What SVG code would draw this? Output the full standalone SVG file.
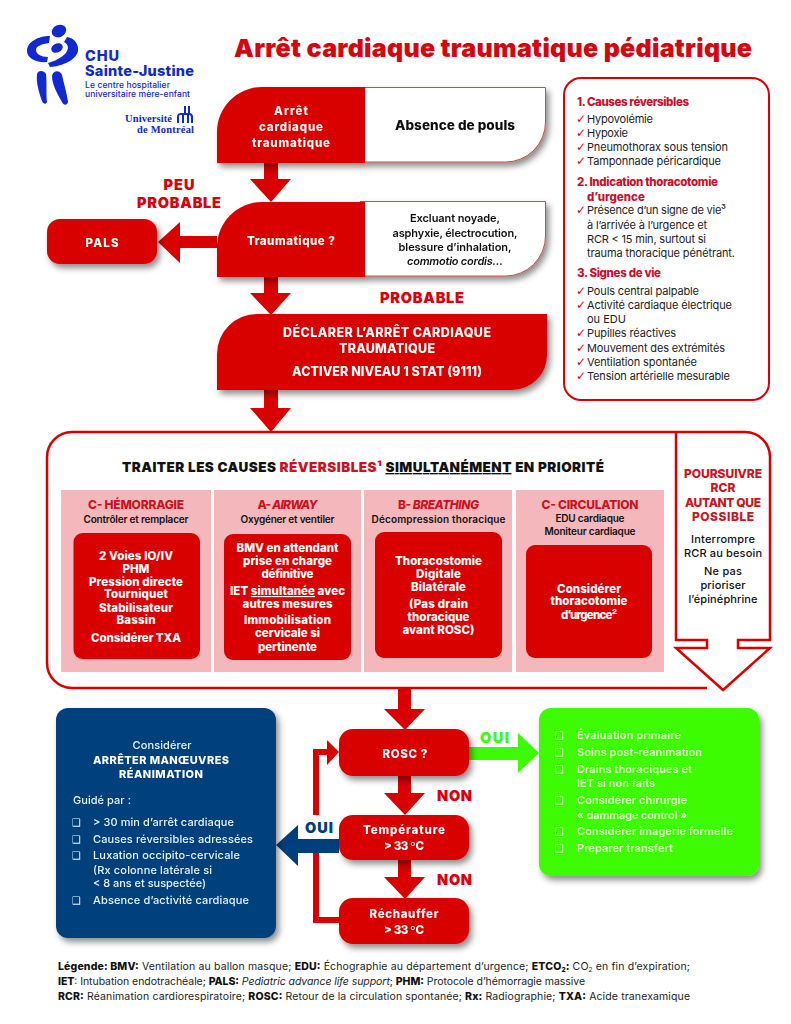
<svg xmlns="http://www.w3.org/2000/svg" width="791" height="1024" viewBox="0 0 791 1024">
<style>
text{font-family:"Inter","Liberation Sans",sans-serif;}
.m{text-anchor:middle}
.w{fill:#fff;font-weight:800;font-size:11.5px}
.w2{fill:#fff;font-weight:800;font-size:12.5px}
.r{fill:#d9000a;font-weight:900}
.k{fill:#111;font-weight:600;font-size:11px}
.k2{fill:#111;font-weight:800;font-size:13.5px}
.k3{fill:#111;font-weight:500;font-size:11px}
.b{fill:#222;font-size:11px;font-weight:400}
.h{fill:#c8102e;font-size:11.5px;font-weight:800}
.c{fill:#d9000a;font-size:12px;font-weight:700;font-family:"DejaVu Sans",sans-serif}
.sub{fill:#111;font-size:10px;font-weight:600}
.ph{fill:#c8141e;font-size:12px;font-weight:800}
.lb{fill:#e8f4fa;font-size:11px;font-weight:500}
.lbb{fill:#fff;font-size:11px;font-weight:800}
.lg{fill:#dcffc8;font-size:11px;font-weight:600}
.bx{font-family:"DejaVu Sans",sans-serif;font-size:10px}
.lgd{fill:#222;font-size:10.5px;font-weight:400}
.lgd tspan.s{font-weight:800;fill:#111}
.red{fill:#d90000}
.pink{fill:#f4b8bc}
.ln{fill:none;stroke:#d90000;stroke-width:2.5}
.thin{fill:#fff;stroke:#c0504d;stroke-width:1}
.lo{fill:#1029d0}
.lt{fill:#1029c8}
.se{font-family:"Liberation Serif",serif;font-size:10.500px;font-weight:700}
</style>
<defs>
<filter id="sh" x="-15%" y="-15%" width="135%" height="140%"><feDropShadow dx="3" dy="4" stdDeviation="3" flood-color="#000" flood-opacity="0.45"/></filter>
</defs>
<rect width="791" height="1024" fill="#fff"/>

<g id="logo">
<ellipse class="lo" cx="59" cy="31" rx="7.500" ry="6" transform="rotate(-25 59 31)"/>
<ellipse class="lo" cx="57" cy="48" rx="6" ry="4.500" transform="rotate(-25 57 48)"/>
<path class="lo" d="M50,36 C38,36 27,42 27,51 C27,58 36,63 47,62 L48,57 C41,57 36,54 36,50 C36,46 42,44 49,43 Z"/>
<path class="lo" d="M67,37 C75,38 79,45 78,51 C76,60 63,66 50,67 L48,63 C58,60 67,55 68,48 C68,45 66,43 64,42 Z"/>
<path class="lo" d="M37,74 C38,70 44,70 46,74 C47,83 46,95 47,102 C46,105 43,104 42,101 C39,92 36,83 37,74 Z"/>
<path class="lo" d="M52,76 C53,70 60,70 62,75 C64,84 67,94 68,102 C67,106 63,105 62,102 C58,95 52,85 52,76 Z"/>
<text class="lt" x="85" y="61" font-size="14.500" font-weight="800" textLength="34">CHU</text>
<text class="lt" x="85" y="76" font-size="14.500" font-weight="800" textLength="109">Sainte-Justine</text>
<text class="lt" x="85" y="88" font-size="8.500" font-weight="500" textLength="85">Le centre hospitalier</text>
<text class="lt" x="85" y="97" font-size="8.500" font-weight="500" textLength="105">universitaire mère-enfant</text>
<text class="lt se" x="125" y="122" textLength="47">Université</text>
<text class="lt se" x="137" y="133" textLength="57">de Montréal</text>
<path class="lo" d="M177,123v-6a4,4 0 0 1 4,-4h3v-7h2v7h2v-7h2v7h0a4,4 0 0 1 3,4v6h-2v-6a2,2 0 0 0 -2,-2v8h-2v-8h-3v8h-2v-8a2,2 0 0 0 -3,2v6z"/>
</g>

<text id="title" x="234" y="57" font-size="25" font-weight="900" fill="#d4070f" textLength="518">Arrêt cardiaque traumatique pédiatrique</text>

<g id="connectors">
<path class="red" d="M264,163h14v16h13l-20,23l-21,-23h14z"/>
<path class="red" d="M264,277h14v16h13l-20,22l-21,-22h14z"/>
<path class="red" d="M217,236v12h-37v15l-22,-21l22,-20v14z"/>
<path class="red" d="M264,389h14v19h13l-20,24l-21,-24h14z"/>
<path class="red" d="M398,688h13v21h14l-20,21l-21,-21h14z"/>
<path class="red" d="M398,776h13v17h14l-20,22l-21,-22h14z"/>
<path class="red" d="M398,860h13v17h14l-20,22l-21,-22h14z"/>
<path fill="#3dfb05" d="M469,747h49v-14l21,20l-21,20v-13h-49z"/>
<path fill="none" stroke="#d90000" stroke-width="6" d="M316,815V752h12"/>
<path class="red" d="M327,740l12,12l-12,13z"/>
<path fill="none" stroke="#d90000" stroke-width="6" d="M316,853V920h24"/>
<path fill="#003f7d" d="M339,839h-41v-14l-22,20l22,21v-13h41z"/>
</g>

<g id="node-arret" filter="url(#sh)">
<path class="thin" d="M360,87.500H545.500V122a40,40 0 0 1 -40,40H360z"/>
<path class="red" d="M217,163V132a45,45 0 0 1 45,-45H365V163z"/>
<text class="w m" x="291" y="115" textLength="34">Arrêt</text>
<text class="w m" x="291" y="131" textLength="64">cardiaque</text>
<text class="w m" x="291" y="147" textLength="78">traumatique</text>
<text class="k2 m" x="455" y="130" textLength="120">Absence de pouls</text>
</g>
<g id="node-traumatique" filter="url(#sh)">
<path class="thin" d="M360,201.500H545.500V236a40,40 0 0 1 -40,40H360z"/>
<path class="red" d="M217,277V247a45,45 0 0 1 45,-45H365V277z"/>
<text class="w m" x="291" y="245" textLength="88">Traumatique ?</text>
<text class="k m" x="455" y="222" textLength="90">Excluant noyade,</text>
<text class="k m" x="455" y="237" textLength="125">asphyxie, électrocution,</text>
<text class="k m" x="455" y="251" textLength="113">blessure d’inhalation,</text>
<text class="k m" x="455" y="265" font-style="italic" textLength="96">commotio cordis…</text>
</g>
<g id="node-pals" filter="url(#sh)">
<rect class="red" x="47" y="219" width="110" height="45" rx="13"/>
<text class="w m" x="102" y="247" textLength="33">PALS</text>
</g>
<text class="r m" x="179" y="190" font-size="14.500" textLength="31">PEU</text>
<text class="r m" x="179" y="208" font-size="14.500" textLength="84">PROBABLE</text>
<text class="r m" x="422" y="303" font-size="14.500" textLength="84">PROBABLE</text>
<g id="node-declarer" filter="url(#sh)">
<path class="red" d="M257,314H547V355a35,35 0 0 1 -35,35H217V354a40,40 0 0 1 40,-40z"/>
<text class="w2 m" x="387" y="337" textLength="208">DÉCLARER L’ARRÊT CARDIAQUE</text>
<text class="w2 m" x="387" y="353" textLength="96">TRAUMATIQUE</text>
<text class="w2 m" x="387" y="376" textLength="190">ACTIVER NIVEAU 1 STAT (9111)</text>
</g>

<g id="panel-notes">
<rect x="564" y="78" width="205" height="322" rx="17" fill="#fff" stroke="#d9000a" stroke-width="2"/>
<text class="h" x="577" y="106" textLength="112">1. Causes réversibles</text>
<text class="c" x="576" y="123">✓</text><text class="b" x="587" y="123" textLength="66">Hypovolémie</text>
<text class="c" x="576" y="137">✓</text><text class="b" x="587" y="137" textLength="41">Hypoxie</text>
<text class="c" x="576" y="151">✓</text><text class="b" x="587" y="151" textLength="141">Pneumothorax sous tension</text>
<text class="c" x="576" y="165">✓</text><text class="b" x="587" y="165" textLength="134">Tamponnade péricardique</text>
<text class="h" x="577" y="186" textLength="141">2. Indication thoracotomie</text>
<text class="h" x="587" y="201">d’urgence</text>
<text class="c" x="576" y="214">✓</text><text class="b" x="587" y="214" textLength="139">Présence d’un signe de vie³</text>
<text class="b" x="587" y="229" textLength="120">à l’arrivée à l’urgence et</text>
<text class="b" x="587" y="243" textLength="119">RCR &lt; 15 min, surtout si</text>
<text class="b" x="587" y="257" textLength="148">trauma thoracique pénétrant.</text>
<text class="h" x="577" y="277" textLength="84">3. Signes de vie</text>
<text class="c" x="576" y="295">✓</text><text class="b" x="587" y="295" textLength="112">Pouls central palpable</text>
<text class="c" x="576" y="309">✓</text><text class="b" x="587" y="309" textLength="145">Activité cardiaque électrique</text>
<text class="b" x="587" y="323" textLength="39">ou EDU</text>
<text class="c" x="576" y="337">✓</text><text class="b" x="587" y="337" textLength="89">Pupilles réactives</text>
<text class="c" x="576" y="352">✓</text><text class="b" x="587" y="352" textLength="138">Mouvement des extrémités</text>
<text class="c" x="576" y="366">✓</text><text class="b" x="587" y="366" textLength="110">Ventilation spontanée</text>
<text class="c" x="576" y="380">✓</text><text class="b" x="587" y="380" textLength="143">Tension artérielle mesurable</text>
</g>

<g id="panel-traiter">
<path class="ln" d="M707,688H72a25,25 0 0 1 -25,-25V457a25,25 0 0 1 25,-25H745a25,25 0 0 1 25,25V640H738V648H770L723,690L676,648H707V640H676V432"/>
<text x="122" y="472" font-size="13.500" font-weight="900" fill="#111" textLength="482">TRAITER LES CAUSES <tspan fill="#c8141e">RÉVERSIBLES¹</tspan> <tspan text-decoration="underline">SIMULTANÉMENT</tspan> EN PRIORITÉ</text>
<rect class="pink" x="61" y="490" width="150" height="182"/>
<rect class="pink" x="214" y="490" width="147" height="182"/>
<rect class="pink" x="364" y="490" width="148" height="182"/>
<rect class="pink" x="516" y="490" width="148" height="182"/>
</g>
<g id="node-hemorragie">
<text class="ph m" x="136" y="509" textLength="96">C- HÉMORRAGIE</text>
<text class="sub m" x="136" y="523" textLength="105">Contrôler et remplacer</text>
<rect class="red" x="73.500" y="533" width="126.500" height="126" rx="9"/>
<text class="w m" x="136" y="560" textLength="74">2 Voies IO/IV</text>
<text class="w m" x="136" y="573">PHM</text>
<text class="w m" x="136" y="586" textLength="94">Pression directe</text>
<text class="w m" x="136" y="598" textLength="64">Tourniquet</text>
<text class="w m" x="136" y="612" textLength="74">Stabilisateur</text>
<text class="w m" x="136" y="624" textLength="39">Bassin</text>
<text class="w m" x="136" y="642" textLength="90">Considérer TXA</text>
</g>
<g id="node-airway">
<text class="ph m" x="287.500" y="509" textLength="60">A- <tspan font-style="italic">AIRWAY</tspan></text>
<text class="sub m" x="287.500" y="523" textLength="94">Oxygéner et ventiler</text>
<rect class="red" x="224" y="534" width="127" height="126" rx="9"/>
<text class="w m" x="287.500" y="552" textLength="102">BMV en attendant</text>
<text class="w m" x="287.500" y="565" textLength="89">prise en charge</text>
<text class="w m" x="287.500" y="578" textLength="52">définitive</text>
<text class="w m" x="287.500" y="595" textLength="115">IET <tspan text-decoration="underline">simultanée</tspan> avec</text>
<text class="w m" x="287.500" y="608" textLength="90">autres mesures</text>
<text class="w m" x="287.500" y="624" textLength="87">Immobilisation</text>
<text class="w m" x="287.500" y="637" textLength="65">cervicale si</text>
<text class="w m" x="287.500" y="651" textLength="59">pertinente</text>
</g>
<g id="node-breathing">
<text class="ph m" x="438.500" y="509" textLength="81">B- <tspan font-style="italic">BREATHING</tspan></text>
<text class="sub m" x="438.500" y="523" textLength="134">Décompression thoracique</text>
<rect class="red" x="375" y="532" width="127" height="126" rx="9"/>
<text class="w m" x="438.500" y="565" textLength="87">Thoracostomie</text>
<text class="w m" x="438.500" y="578" textLength="45">Digitale</text>
<text class="w m" x="438.500" y="591" textLength="55">Bilatérale</text>
<text class="w m" x="438.500" y="608" textLength="59">(Pas drain</text>
<text class="w m" x="438.500" y="621" textLength="62">thoracique</text>
<text class="w m" x="438.500" y="634" textLength="72">avant ROSC)</text>
</g>
<g id="node-circulation">
<text class="ph m" x="590" y="509" textLength="97">C- CIRCULATION</text>
<text class="sub m" x="590" y="522" textLength="69">EDU cardiaque</text>
<text class="sub m" x="590" y="535" textLength="91">Moniteur cardiaque</text>
<rect class="red" x="526" y="545" width="126" height="113" rx="9"/>
<text class="w m" x="589" y="593" textLength="64">Considérer</text>
<text class="w m" x="589" y="605" textLength="77">thoracotomie</text>
<text class="w m" x="589" y="619" textLength="56">d’urgence²</text>
</g>
<g id="node-poursuivre">
<text class="ph m" x="723" y="478" textLength="78">POURSUIVRE</text>
<text class="ph m" x="723" y="492">RCR</text>
<text class="ph m" x="723" y="507" textLength="76">AUTANT QUE</text>
<text class="ph m" x="723" y="521" textLength="62">POSSIBLE</text>
<text class="k3 m" x="723" y="543" textLength="64">Interrompre</text>
<text class="k3 m" x="723" y="557" textLength="78">RCR au besoin</text>
<text class="k3 m" x="723" y="575" textLength="38">Ne pas</text>
<text class="k3 m" x="723" y="589" textLength="45">prioriser</text>
<text class="k3 m" x="723" y="603" textLength="69">l’épinéphrine</text>
</g>

<g id="node-arreter" filter="url(#sh)">
<rect x="56" y="708" width="220" height="230" rx="12" fill="#003f7d"/>
<text class="lb m" x="162" y="749" textLength="59">Considérer</text>
<text class="lbb m" x="161" y="764" textLength="136">ARRÊTER MANŒUVRES</text>
<text class="lbb m" x="161" y="778" textLength="84">RÉANIMATION</text>
<text class="lb" x="73" y="804" textLength="58">Guidé par :</text>
<text class="lb bx" x="72" y="826">❑</text><text class="lb" x="93" y="826" textLength="141">&gt; 30 min d’arrêt cardiaque</text>
<text class="lb bx" x="72" y="843">❑</text><text class="lb" x="93" y="843" textLength="160">Causes réversibles adressées</text>
<text class="lb bx" x="72" y="859">❑</text><text class="lb" x="93" y="859" textLength="147">Luxation occipito-cervicale</text>
<text class="lb" x="93" y="874" textLength="119">(Rx colonne latérale si</text>
<text class="lb" x="93" y="887" textLength="113">&lt; 8 ans et suspectée)</text>
<text class="lb bx" x="72" y="904">❑</text><text class="lb" x="93" y="904" textLength="156">Absence d’activité cardiaque</text>
</g>
<g id="node-rosc" filter="url(#sh)">
<rect class="red" x="339" y="729" width="130" height="47" rx="14"/>
<text class="w m" x="405" y="758" textLength="45">ROSC ?</text>
</g>
<g id="node-temperature" filter="url(#sh)">
<rect class="red" x="339" y="815" width="130" height="45" rx="14"/>
<text class="w m" x="404" y="834" textLength="82">Température</text>
<text class="w m" x="404" y="850" textLength="40">&gt; 33 ºC</text>
</g>
<g id="node-rechauffer" filter="url(#sh)">
<rect class="red" x="339" y="898" width="130" height="46" rx="14"/>
<text class="w m" x="404" y="918" textLength="69">Réchauffer</text>
<text class="w m" x="404" y="934" textLength="40">&gt; 33 ºC</text>
</g>
<g id="node-soins" filter="url(#sh)">
<rect x="539" y="708" width="220" height="168" rx="12" fill="#3dfb05"/>
<text class="lg bx" x="555" y="739">❑</text><text class="lg" x="577" y="739" textLength="104">Évaluation primaire</text>
<text class="lg bx" x="555" y="756">❑</text><text class="lg" x="577" y="756" textLength="125">Soins post-réanimation</text>
<text class="lg bx" x="555" y="773">❑</text><text class="lg" x="577" y="773" textLength="115">Drains thoraciques et</text>
<text class="lg" x="577" y="787" textLength="78">IET si non faits</text>
<text class="lg bx" x="555" y="804">❑</text><text class="lg" x="577" y="804" textLength="110">Considérer chirurgie</text>
<text class="lg" x="577" y="819" textLength="110">« dammage control »</text>
<text class="lg bx" x="555" y="835">❑</text><text class="lg" x="577" y="835" textLength="156">Considérer imagerie formelle</text>
<text class="lg bx" x="555" y="852">❑</text><text class="lg" x="577" y="852" textLength="96">Préparer transfert</text>
</g>
<text x="305" y="833" font-size="14.500" font-weight="900" fill="#003f7d" textLength="28">OUI</text>
<text x="480" y="743" font-size="14.500" font-weight="900" fill="#3dfb05" textLength="29">OUI</text>
<text class="r" x="437" y="801" font-size="14.500" textLength="35">NON</text>
<text class="r" x="437" y="885" font-size="14.500" textLength="35">NON</text>

<g id="legend">
<text class="lgd" x="58" y="970" textLength="632"><tspan class="s">Légende: BMV:</tspan> Ventilation au ballon masque; <tspan class="s">EDU:</tspan> Échographie au département d’urgence; <tspan class="s">ETCO<tspan font-size="6.500" dy="2">2</tspan><tspan dy="-2">:</tspan></tspan> CO<tspan font-size="6.500" dy="2">2</tspan><tspan dy="-2"> en fin d’expiration;</tspan></text>
<text class="lgd" x="58" y="985" textLength="527"><tspan class="s">IET</tspan>: Intubation endotrachéale; <tspan class="s">PALS:</tspan> <tspan font-style="italic">Pediatric advance life support</tspan>; <tspan class="s">PHM:</tspan> Protocole d’hémorragie massive</text>
<text class="lgd" x="58" y="1000" textLength="632"><tspan class="s">RCR:</tspan> Réanimation cardiorespiratoire; <tspan class="s">ROSC:</tspan> Retour de la circulation spontanée; <tspan class="s">Rx:</tspan> Radiographie; <tspan class="s">TXA:</tspan> Acide tranexamique</text>
</g>
</svg>
